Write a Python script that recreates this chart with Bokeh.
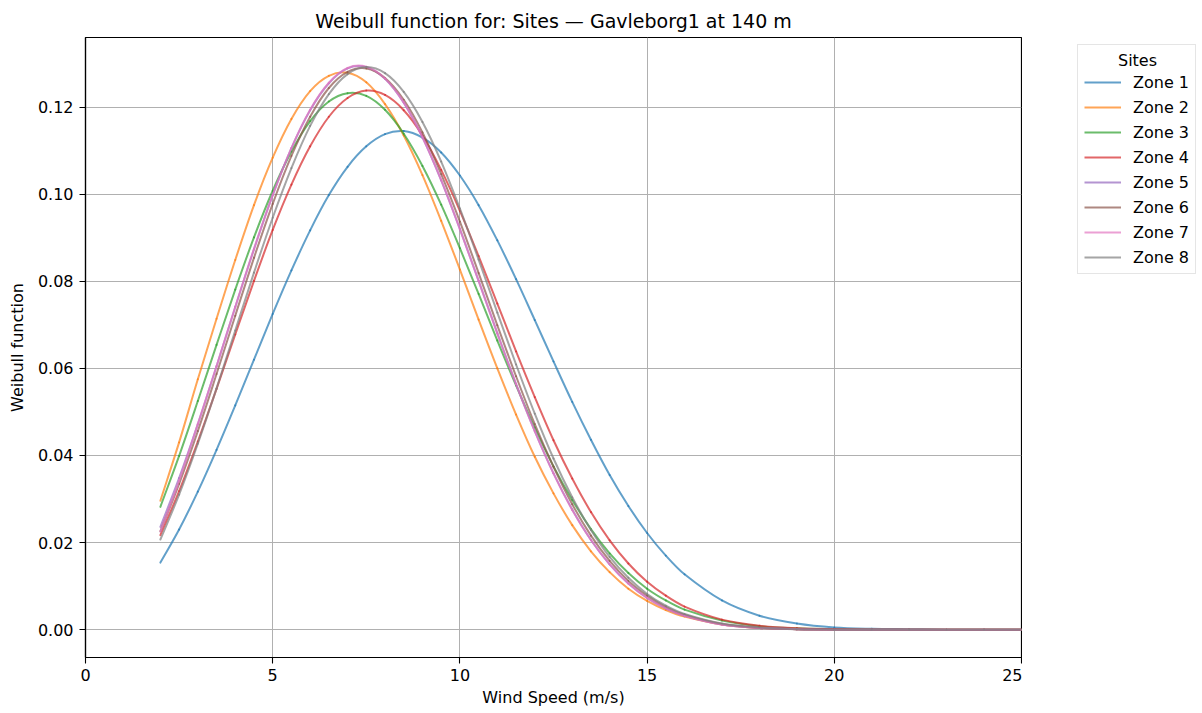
from bokeh.plotting import figure
from bokeh.layouts import row
from bokeh.models import (Legend, LegendItem, Label, FixedTicker, PrintfTickFormatter,
                          ColumnDataSource, Range1d)
from bokeh.embed import file_html
from bokeh.resources import INLINE

title_text = "Weibull function for: Sites — Gavleborg1 at 140 m"
x_label = "Wind Speed (m/s)"
y_label = "Weibull function"
legend_title = "Sites"

wind_speed = [2.0, 2.5, 3.0, 3.5, 4.0, 4.5, 5.0, 5.5, 6.0, 6.5, 7.0, 7.5, 8.0, 8.5, 9.0,
              9.5, 10.0, 10.5, 11.0, 11.5, 12.0, 12.5, 13.0, 13.5, 14.0, 14.5, 15.0, 15.5,
              16.0, 17.0, 18.0, 19.0, 20.0, 21.0, 22.0, 23.0, 24.0, 25.0]

zone_names = ["Zone 1", "Zone 2", "Zone 3", "Zone 4", "Zone 5", "Zone 6", "Zone 7", "Zone 8"]

zone1 = [0.0154, 0.0230, 0.0317, 0.0413, 0.0515, 0.0620, 0.0725, 0.0825, 0.0917, 0.0998,
         0.1063, 0.1110, 0.1138, 0.1145, 0.1130, 0.1096, 0.1043, 0.0975, 0.0894, 0.0805,
         0.0711, 0.0616, 0.0523, 0.0436, 0.0355, 0.0284, 0.0222, 0.0170, 0.0127, 0.0067,
         0.0032, 0.0014, 0.0005, 0.0002, 0.0001, 0.0, 0.0, 0.0]
zone2 = [0.0296, 0.0430, 0.0575, 0.0714, 0.0849, 0.0975, 0.1084, 0.1173, 0.1237, 0.1272,
         0.1279, 0.1257, 0.1207, 0.1135, 0.1044, 0.0939, 0.0827, 0.0712, 0.0600, 0.0494,
         0.0397, 0.0313, 0.0240, 0.0180, 0.0132, 0.0094, 0.0066, 0.0045, 0.0030, 0.0012,
         0.0004, 0.0001, 0.0, 0.0, 0.0, 0.0, 0.0, 0.0]
zone3 = [0.0282, 0.0399, 0.0525, 0.0654, 0.0781, 0.0901, 0.1008, 0.1098, 0.1168, 0.1213,
         0.1232, 0.1226, 0.1194, 0.1139, 0.1065, 0.0976, 0.0876, 0.0771, 0.0664, 0.0561,
         0.0464, 0.0375, 0.0298, 0.0231, 0.0175, 0.0130, 0.0094, 0.0067, 0.0046, 0.0021,
         0.0008, 0.0003, 0.0001, 0.0, 0.0, 0.0, 0.0, 0.0]
zone4 = [0.0217, 0.0318, 0.0432, 0.0553, 0.0678, 0.0801, 0.0918, 0.1022, 0.1110, 0.1178,
         0.1221, 0.1238, 0.1228, 0.1193, 0.1135, 0.1056, 0.0962, 0.0858, 0.0749, 0.0639,
         0.0534, 0.0435, 0.0347, 0.0270, 0.0205, 0.0152, 0.0110, 0.0078, 0.0053, 0.0023,
         0.0009, 0.0003, 0.0001, 0.0, 0.0, 0.0, 0.0, 0.0]
zone5 = [0.0236, 0.0348, 0.0472, 0.0605, 0.0741, 0.0874, 0.0998, 0.1106, 0.1193, 0.1255,
         0.1289, 0.1292, 0.1265, 0.1210, 0.1131, 0.1032, 0.0920, 0.0801, 0.0681, 0.0564,
         0.0456, 0.0359, 0.0276, 0.0206, 0.0150, 0.0106, 0.0073, 0.0049, 0.0032, 0.0012,
         0.0004, 0.0001, 0.0, 0.0, 0.0, 0.0, 0.0, 0.0]
zone6 = [0.0226, 0.0335, 0.0456, 0.0587, 0.0721, 0.0854, 0.0978, 0.1088, 0.1178, 0.1244,
         0.1281, 0.1289, 0.1267, 0.1217, 0.1142, 0.1046, 0.0937, 0.0819, 0.0699, 0.0582,
         0.0472, 0.0374, 0.0288, 0.0216, 0.0158, 0.0112, 0.0078, 0.0052, 0.0034, 0.0013,
         0.0004, 0.0001, 0.0, 0.0, 0.0, 0.0, 0.0, 0.0]
zone7 = [0.0225, 0.0342, 0.0472, 0.0605, 0.0741, 0.0874, 0.0998, 0.1106, 0.1194, 0.1256,
         0.1290, 0.1293, 0.1266, 0.1211, 0.1131, 0.1033, 0.0920, 0.0801, 0.0680, 0.0564,
         0.0456, 0.0359, 0.0275, 0.0206, 0.0150, 0.0106, 0.0073, 0.0049, 0.0032, 0.0012,
         0.0004, 0.0001, 0.0, 0.0, 0.0, 0.0, 0.0, 0.0]
zone8 = [0.0207, 0.0310, 0.0427, 0.0554, 0.0687, 0.0820, 0.0946, 0.1060, 0.1157, 0.1230,
         0.1276, 0.1292, 0.1278, 0.1235, 0.1166, 0.1075, 0.0967, 0.0850, 0.0728, 0.0609,
         0.0496, 0.0393, 0.0304, 0.0229, 0.0167, 0.0119, 0.0082, 0.0055, 0.0036, 0.0014,
         0.0005, 0.0001, 0.0, 0.0, 0.0, 0.0, 0.0, 0.0]

zone_values = [zone1, zone2, zone3, zone4, zone5, zone6, zone7, zone8]
zone_colors = ["#1f77b4", "#ff7f0e", "#2ca02c", "#d62728", "#9467bd", "#8c564b", "#e377c2", "#7f7f7f"]

x_ticks = [0, 5, 10, 15, 20, 25]
y_ticks = [0.0, 0.02, 0.04, 0.06, 0.08, 0.10, 0.12]

FONT = "DejaVu Sans"


def smooth_segments(xs, ys):
    """Cubic Hermite segments through the data points (drawn as Bezier curves)."""
    n = len(xs)
    slopes = []
    for i in range(n):
        a = max(i - 1, 0)
        b = min(i + 1, n - 1)
        slopes.append((ys[b] - ys[a]) / (xs[b] - xs[a]))
    d = dict(x0=[], y0=[], x1=[], y1=[], cx0=[], cy0=[], cx1=[], cy1=[])
    for i in range(n - 1):
        h = xs[i + 1] - xs[i]
        d["x0"].append(xs[i]); d["y0"].append(ys[i])
        d["x1"].append(xs[i + 1]); d["y1"].append(ys[i + 1])
        d["cx0"].append(xs[i] + h / 3); d["cy0"].append(ys[i] + slopes[i] * h / 3)
        d["cx1"].append(xs[i + 1] - h / 3); d["cy1"].append(ys[i + 1] - slopes[i + 1] * h / 3)
    return ColumnDataSource(d)


# ---------------- main plot ----------------
p = figure(width=1022, height=713, x_range=(0, 25), y_range=(-0.0064, 0.136),
           output_backend="svg", toolbar_location=None,
           min_border_left=85, min_border_right=1, min_border_top=37, min_border_bottom=56)

p.title.text = title_text
p.title.align = "center"
p.title.text_font = FONT
p.title.text_font_size = "19px"
p.title.text_font_style = "normal"
p.title.text_color = "#000000"
p.title.standoff = 11

p.outline_line_color = "#000000"
p.outline_line_width = 1.2
p.background_fill_color = "white"
p.border_fill_color = "white"

for ax in (p.xaxis[0], p.yaxis[0]):
    ax.axis_line_color = "#000000"
    ax.axis_line_width = 1.2
    ax.major_tick_line_color = "#000000"
    ax.major_tick_line_width = 1.1
    ax.major_tick_in = 0
    ax.major_tick_out = 6
    ax.minor_tick_line_color = None
    ax.major_label_text_font = FONT
    ax.major_label_text_font_size = "16px"
    ax.major_label_text_color = "#000000"
    ax.axis_label_text_font = FONT
    ax.axis_label_text_font_size = "16px"
    ax.axis_label_text_font_style = "normal"
    ax.axis_label_text_color = "#000000"

p.xaxis[0].ticker = FixedTicker(ticks=x_ticks)
p.yaxis[0].ticker = FixedTicker(ticks=y_ticks)
p.yaxis[0].formatter = PrintfTickFormatter(format="%.2f")
p.xaxis[0].axis_label = x_label
p.yaxis[0].axis_label = y_label
p.xaxis[0].major_label_standoff = 5
p.xaxis[0].axis_label_standoff = 4
p.yaxis[0].major_label_standoff = 6
p.yaxis[0].axis_label_standoff = 8

for g in (p.xgrid[0], p.ygrid[0]):
    g.grid_line_color = "#b0b0b0"
    g.grid_line_width = 1.0

for vals, col in zip(zone_values, zone_colors):
    src = smooth_segments(wind_speed, vals)
    p.bezier(x0="x0", y0="y0", x1="x1", y1="y1", cx0="cx0", cy0="cy0",
             cx1="cx1", cy1="cy1", source=src,
             line_color=col, line_width=2, line_alpha=0.7, line_cap="round")

# ---------------- legend panel (frame aligned with the main plot) ----------------
lg = figure(width=180, height=713, x_range=Range1d(0, 1), y_range=Range1d(0, 1),
            output_backend="svg", toolbar_location=None,
            x_axis_location=None, y_axis_location=None,
            min_border_left=0, min_border_right=0, min_border_top=0, min_border_bottom=0)
lg.outline_line_color = None
lg.xgrid.visible = False
lg.ygrid.visible = False
lg.background_fill_color = "white"
lg.border_fill_color = "white"

items = []
for name, vals, col in zip(zone_names, zone_values, zone_colors):
    # same series, lying outside this panel's visible range: only used for the legend swatch
    r = lg.line(x=wind_speed, y=vals, line_color=col, line_width=2, line_alpha=0.7)
    items.append(LegendItem(label=name, renderers=[r]))

legend = Legend(items=items, location=(55, 383), title=" ",
                label_text_font=FONT, label_text_font_size="16px", label_text_color="#000000",
                title_text_font=FONT, title_text_font_size="16px", title_text_font_style="normal",
                title_text_color="#000000", title_standoff=2,
                glyph_width=37, glyph_height=20, label_height=20, label_standoff=12,
                spacing=5, padding=6, margin=0,
                border_line_color="#cccccc", border_line_width=1,
                background_fill_color="white", background_fill_alpha=0.0)
lg.add_layout(legend)

lg.add_layout(Label(x=115, y=597, x_units="screen", y_units="screen", text=legend_title,
                    text_align="center", text_baseline="middle", text_font=FONT,
                    text_font_size="16px", text_color="#000000", level="overlay"))

layout = row(p, lg, spacing=0)
open("out.html", "w").write(file_html(layout, INLINE))
